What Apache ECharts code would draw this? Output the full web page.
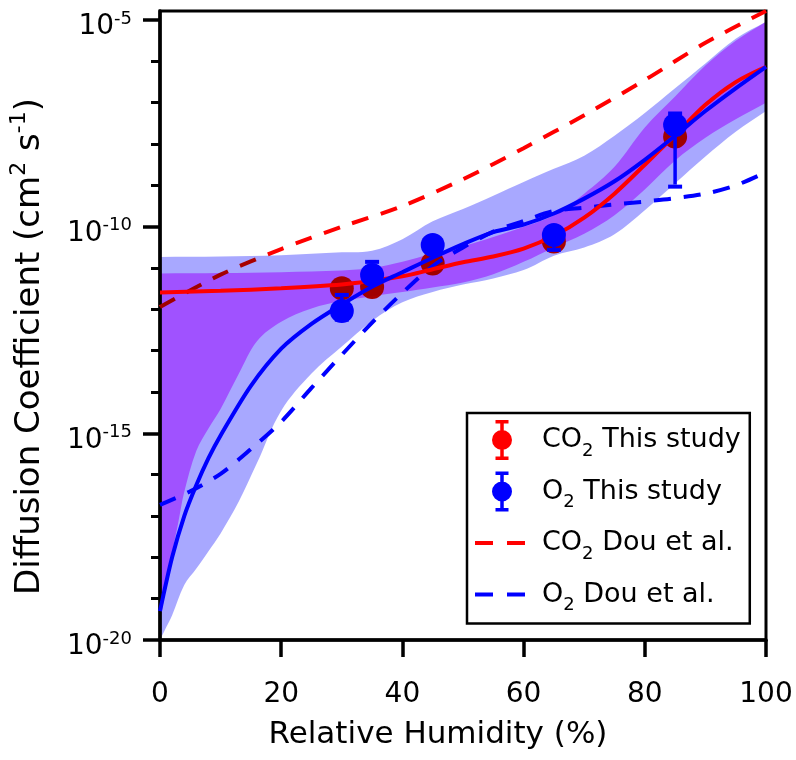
<!DOCTYPE html>
<html>
<head>
<meta charset="utf-8">
<script src="https://cdn.jsdelivr.net/npm/echarts@6/dist/echarts.min.js"></script>
<style>
  html, body { margin: 0; padding: 0; background: #fff; }
  #chart { width: 796px; height: 760px; }
</style>
</head>
<body>
<div id="chart"></div>
<script>
// all y values are log10 of the diffusion coefficient (cm2 s-1)
var pointRH = [30, 35, 45, 65, 85];
var co2Points = [-11.49, -11.46, -10.89, -10.36, -7.82];
var co2Low = [-11.61, -11.58, -11.01, -10.48, -7.94];
var co2High = [-11.37, -11.34, -10.77, -10.24, -7.70];
var o2Points = [-12.04, -11.17, -10.44, -10.20, -7.54];
var o2Low = [-12.25, -11.35, -10.60, -10.56, -9.03];
var o2High = [-11.65, -10.85, -10.30, -10.05, -7.26];

// fitted curves (solid)
var co2FitRH = [0, 10, 20, 30, 35, 40, 45, 50, 55, 60, 65, 70, 75, 80, 85, 90, 95, 100];
var co2Fit = [-11.59, -11.55, -11.49, -11.40, -11.31, -11.20, -11.03, -10.86, -10.72, -10.53, -10.22, -9.78, -9.20, -8.50, -7.78, -7.05, -6.50, -6.13];
var o2FitRH = [0, 2, 4, 6, 8, 10, 15, 20, 25, 30, 35, 40, 45, 50, 55, 60, 65, 70, 75, 80, 85, 90, 95, 100];
var o2Fit = [-19.30, -18.00, -17.00, -16.25, -15.60, -15.05, -13.85, -12.95, -12.35, -11.88, -11.45, -11.10, -10.75, -10.42, -10.13, -9.95, -9.68, -9.32, -8.90, -8.38, -7.80, -7.20, -6.65, -6.13];

// Dou et al. (dashed)
var co2DouRH = [0, 10, 20, 30, 40, 50, 60, 70, 80, 90, 100];
var co2Dou = [-11.94, -11.16, -10.54, -10.00, -9.50, -8.85, -8.10, -7.30, -6.45, -5.55, -4.78];
var o2DouRH = [0, 5, 10, 15, 20, 25, 30, 35, 40, 45, 50, 55, 60, 65, 70, 75, 80, 85, 90, 95, 100];
var o2Dou = [-16.73, -16.40, -15.98, -15.38, -14.72, -13.90, -13.10, -12.32, -11.60, -10.95, -10.50, -10.12, -9.86, -9.62, -9.54, -9.46, -9.39, -9.31, -9.20, -9.00, -8.68];

// confidence bands
var o2BandUpRH = [0, 10, 20, 30, 35, 40, 45, 50, 55, 60, 65, 70, 75, 80, 85, 90, 95, 100];
var o2BandUp = [-10.73, -10.72, -10.69, -10.62, -10.58, -10.30, -9.87, -9.57, -9.25, -8.92, -8.60, -8.28, -7.80, -7.25, -6.65, -6.05, -5.45, -5.04];
var o2BandLowRH = [0, 1, 2, 4, 6, 8, 10, 13, 16, 20, 25, 30, 35, 40, 45, 50, 55, 60, 65, 70, 75, 80, 85, 90, 95, 100];
var o2BandLow = [-20.00, -19.70, -19.40, -18.67, -18.27, -17.85, -17.42, -16.65, -15.72, -14.45, -13.55, -12.90, -12.28, -11.83, -11.58, -11.40, -11.25, -11.05, -10.70, -10.50, -10.18, -9.60, -8.95, -8.30, -7.70, -7.20];
var co2BandUpRH = [0, 10, 20, 30, 35, 40, 45, 50, 55, 60, 65, 70, 75, 80, 85, 90, 95, 100];
var co2BandUp = [-11.13, -11.12, -11.10, -11.06, -11.00, -10.85, -10.65, -10.47, -10.25, -10.00, -9.72, -9.20, -8.55, -7.60, -6.85, -6.10, -5.50, -5.04];
var co2BandLowRH = [0, 1, 2, 3, 4, 6, 8, 10, 13, 16, 20, 25, 30, 35, 40, 45, 50, 55, 60, 65, 70, 75, 80, 85, 90, 95, 100];
var co2BandLow = [-19.60, -18.70, -17.90, -17.17, -16.42, -15.42, -14.88, -14.41, -13.56, -12.77, -12.30, -11.98, -11.80, -11.68, -11.58, -11.47, -11.35, -11.15, -10.85, -10.50, -10.17, -9.72, -9.10, -8.40, -7.85, -7.40, -7.00];

var majorTicks = [-20, -15, -10, -5];
var minorTicks = [-19, -18, -17, -16, -14, -13, -12, -11, -9, -8, -7, -6];

var FONT = 'DejaVu Sans';
var RED = '#ff0000';
var BLUE = '#0000ff';

function pairs(xs, ys) {
  return xs.map(function (x, i) { return [x, ys[i]]; });
}

function bandSeries(name, upRH, up, lowRH, low, color, z) {
  return {
    type: 'custom',
    name: name,
    z: z,
    clip: true,
    silent: true,
    blendMode: 'multiply',
    data: [[50, -12]],
    renderItem: function (params, api) {
      var top = upRH.map(function (x, i) { return api.coord([x, up[i]]); });
      var bottom = [];
      for (var i = lowRH.length - 1; i >= 0; i--) {
        bottom.push(api.coord([lowRH[i], low[i]]));
      }
      // repeat the end points so the smoothing keeps the corners square
      var pts = [top[0]].concat(top, [top[top.length - 1]], [bottom[0]], bottom, [bottom[bottom.length - 1]]);
      return {
        type: 'polygon',
        shape: { points: pts, smooth: 0.35 },
        style: { fill: color }
      };
    }
  };
}

function errorSeries(name, lows, highs, color, z) {
  return {
    type: 'custom',
    name: name,
    z: z,
    silent: true,
    data: pointRH.map(function (x, i) { return [x, lows[i], highs[i]]; }),
    encode: { x: 0, y: [1, 2] },
    renderItem: function (params, api) {
      var lo = api.coord([api.value(0), api.value(1)]);
      var hi = api.coord([api.value(0), api.value(2)]);
      var cw = 7;
      var bar = { stroke: color, lineWidth: 3.5 };
      var cap = { stroke: color, lineWidth: 4 };
      return {
        type: 'group',
        children: [
          { type: 'line', shape: { x1: lo[0], y1: lo[1] - 2, x2: hi[0], y2: hi[1] + 2 }, style: bar },
          { type: 'line', shape: { x1: lo[0] - cw, y1: lo[1], x2: lo[0] + cw, y2: lo[1] }, style: cap },
          { type: 'line', shape: { x1: hi[0] - cw, y1: hi[1], x2: hi[0] + cw, y2: hi[1] }, style: cap }
        ]
      };
    }
  };
}

// legend icons, box 50 x 40
var errIcon = 'path://M0 0M50 40' +
  'M20.5 0H33.5V3.5H20.5Z' +
  'M20.5 36.5H33.5V40H20.5Z' +
  'M25.25 0H28.75V40H25.25Z' +
  'M37 20A10 10 0 1 1 17 20A10 10 0 1 1 37 20Z';
var dashIcon = 'path://M0 0M50 40M0 18H18V22H0ZM32 18H50V22H32Z';

var chart = echarts.init(document.getElementById('chart'));

var option = {
  backgroundColor: '#fff',
  animation: false,
  textStyle: { fontFamily: FONT },
  grid: [
    { left: 160, right: 30, top: 11, bottom: 120, show: true, borderColor: '#000', borderWidth: 3, backgroundColor: 'transparent' },
    { left: 160, width: 20, top: 11, bottom: 120 }
  ],
  legend: {
    orient: 'vertical',
    left: 467,
    top: 413,
    padding: [7, 9, 9, 8],
    itemGap: 11.5,
    itemWidth: 50,
    itemHeight: 40,
    borderColor: '#000',
    borderWidth: 2.5,
    selectedMode: false,
    data: [
      { name: 'CO2 This study', icon: errIcon },
      { name: 'O2 This study', icon: errIcon },
      { name: 'CO2 Dou et al.', icon: dashIcon },
      { name: 'O2 Dou et al.', icon: dashIcon }
    ],
    formatter: function (name) {
      var parts = name.split('2');
      return '{f|' + parts[0] + '}{s|2}{a|' + parts[1] + '}';
    },
    textStyle: {
      color: '#000',
      fontFamily: FONT,
      fontSize: 27,
      rich: {
        f: { fontSize: 27, fontFamily: FONT, color: '#000', lineHeight: 40, padding: [0, 0, 0, 12] },
        s: { fontSize: 18, fontFamily: FONT, color: '#000', lineHeight: 12, verticalAlign: 'bottom' },
        a: { fontSize: 27, fontFamily: FONT, color: '#000', lineHeight: 40 }
      }
    }
  },
  xAxis: [
    {
      type: 'value',
      gridIndex: 0,
      min: 0,
      max: 100,
      interval: 20,
      name: 'Relative Humidity (%)',
      nameLocation: 'middle',
      nameGap: 79,
      nameTextStyle: { fontSize: 31, fontFamily: FONT, color: '#000', padding: [0, 50, 0, 0] },
      axisLine: { onZero: false, lineStyle: { color: '#000', width: 3.5 } },
      axisTick: { inside: false, length: 17, lineStyle: { color: '#000', width: 3.5 } },
      axisLabel: { fontSize: 28, fontFamily: FONT, color: '#000', margin: 41 },
      splitLine: { show: false }
    },
    {
      type: 'value',
      gridIndex: 1,
      min: 0,
      max: 100,
      show: false
    }
  ],
  yAxis: [
    {
      type: 'value',
      gridIndex: 0,
      min: -20,
      max: -4.78,
      name: 'Diffusion Coefficient (cm{sup|2} s{sup|-1})',
      nameLocation: 'middle',
      nameGap: 108,
      nameTextStyle: {
        fontSize: 34,
        fontFamily: FONT,
        color: '#000',
        lineHeight: 44,
        padding: [0, 42, 0, 0],
        rich: {
          sup: { fontSize: 22, fontFamily: FONT, color: '#000', lineHeight: 16, verticalAlign: 'top' }
        }
      },
      axisLine: { onZero: false, lineStyle: { color: '#000', width: 3.5 } },
      axisTick: { inside: false, length: 17, customValues: majorTicks, lineStyle: { color: '#000', width: 3.5 } },
      axisLabel: {
        customValues: majorTicks,
        margin: 28,
        padding: [14, 0, 0, 0],
        formatter: function (v) { return '{b|10}{p|' + v + '}'; },
        rich: {
          b: { fontSize: 28, fontFamily: FONT, color: '#000', lineHeight: 34 },
          p: { fontSize: 18, fontFamily: FONT, color: '#000', lineHeight: 14, verticalAlign: 'top' }
        }
      },
      splitLine: { show: false }
    },
    {
      type: 'value',
      gridIndex: 1,
      min: -20,
      max: -4.78,
      position: 'left',
      axisLine: { show: false },
      axisTick: { show: true, inside: false, length: 9, customValues: minorTicks, lineStyle: { color: '#000', width: 3 } },
      axisLabel: { show: false },
      splitLine: { show: false }
    }
  ],
  series: [
    {
      name: 'CO2 Dou et al.',
      type: 'line',
      z: 2,
      smooth: 0.3,
      symbol: 'none',
      silent: true,
      data: pairs(co2DouRH, co2Dou),
      itemStyle: { color: RED },
      lineStyle: { color: RED, width: 4, type: [17, 13] }
    },
    errorSeries('CO2 error', co2Low, co2High, RED, 2),
    {
      name: 'CO2 This study',
      type: 'scatter',
      z: 2,
      symbol: 'circle',
      symbolSize: 24,
      silent: true,
      data: pairs(pointRH, co2Points),
      itemStyle: { color: RED, opacity: 1 }
    },
    bandSeries('O2 band', o2BandUpRH, o2BandUp, o2BandLowRH, o2BandLow, '#a8a8ff', 3),
    bandSeries('CO2 band', co2BandUpRH, co2BandUp, co2BandLowRH, co2BandLow, '#f37cff', 4),
    {
      name: 'O2 Dou et al.',
      type: 'line',
      z: 5,
      smooth: 0.3,
      symbol: 'none',
      silent: true,
      data: pairs(o2DouRH, o2Dou),
      itemStyle: { color: BLUE },
      lineStyle: { color: BLUE, width: 4, type: [17, 13] }
    },
    {
      name: 'CO2 fit',
      type: 'line',
      z: 6,
      smooth: 0.3,
      symbol: 'none',
      silent: true,
      data: pairs(co2FitRH, co2Fit),
      lineStyle: { color: RED, width: 4 }
    },
    {
      name: 'O2 fit',
      type: 'line',
      z: 6,
      smooth: 0.3,
      symbol: 'none',
      silent: true,
      data: pairs(o2FitRH, o2Fit),
      lineStyle: { color: BLUE, width: 4 }
    },
    errorSeries('O2 error', o2Low, o2High, BLUE, 7),
    {
      name: 'O2 This study',
      type: 'scatter',
      z: 7,
      symbol: 'circle',
      symbolSize: 24,
      silent: true,
      data: pairs(pointRH, o2Points),
      itemStyle: { color: BLUE, opacity: 1 }
    }
  ]
};

chart.setOption(option);
</script>
</body>
</html>
